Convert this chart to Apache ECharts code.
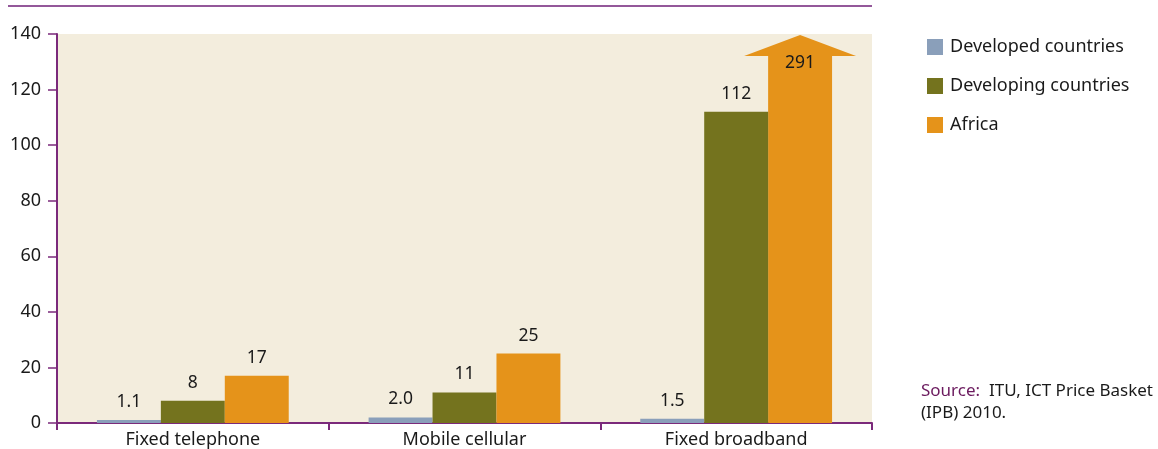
<!DOCTYPE html>
<html>
<head>
<meta charset="utf-8">
<script src="https://cdn.jsdelivr.net/npm/echarts@6/dist/echarts.min.js"></script>
<style>
  html, body { margin: 0; padding: 0; background: #fff; }
  #ec { width: 1158px; height: 449px; }
</style>
</head>
<body>
<div id="ec"></div>
<script>
var categories = ['Fixed telephone', 'Mobile cellular', 'Fixed broadband']
var developed = [1.1, 2.0, 1.5]
var developing = [8, 11, 112]
var africa = [17, 25, 291]
var yTicks = [0, 20, 40, 60, 80, 100, 120, 140]

var yMax = yTicks[yTicks.length - 1]
var font = 'Noto Sans'
var gapRatio = 0.294

var myEchart = echarts.init(document.getElementById('ec'))

// bars above the axis max are drawn as an arrow
function arrowItem(params, api) {
  var idx = api.value(0)
  var v = api.value(1)
  if (v <= yMax) return null
  var base = api.coord([idx, 0])
  var top = api.coord([idx, yMax])
  var band = api.size([1, 0])[0]
  var barW = band * (1 - gapRatio) / 3
  var cx = base[0] + barW
  var l = cx - barW / 2, r = cx + barW / 2
  var hw = barW * 0.875
  var headBase = top[1] + 22
  return {
    type: 'polygon',
    shape: {
      points: [[l, base[1]], [l, headBase], [cx - hw, headBase], [cx, top[1] + 1],
        [cx + hw, headBase], [r, headBase], [r, base[1]]]
    },
    style: { fill: '#e5931a' }
  }
}

var labelStyle = { show: true, position: 'top', distance: 9, fontFamily: font, fontSize: 17.5, color: '#1a1a1a' }

myEchart.setOption({
  animation: false,
  grid: {
    left: 57, right: 286, top: 34, bottom: 25,
    show: true, backgroundColor: '#f3eddd', borderWidth: 0
  },
  legend: {
    orient: 'vertical',
    left: 922, top: 33,
    itemWidth: 16, itemHeight: 16, itemGap: 21,
    icon: 'rect',
    textStyle: { fontFamily: font, fontSize: 18, color: '#1a1a1a', padding: [0, 0, 0, 2] },
    data: ['Developed countries', 'Developing countries', 'Africa']
  },
  xAxis: {
    type: 'category',
    data: categories,
    axisLine: { lineStyle: { color: '#7b2a7b', width: 2 } },
    axisTick: { show: true, length: 7, lineStyle: { color: '#7b2a7b', width: 2 } },
    axisLabel: { fontFamily: font, fontSize: 18, color: '#1a1a1a', margin: 8 }
  },
  yAxis: {
    type: 'value',
    min: 0, max: yMax, interval: 20,
    splitLine: { show: false },
    axisLine: { show: true, lineStyle: { color: '#7b2a7b', width: 2 } },
    axisTick: { show: true, length: 9, lineStyle: { color: '#7b2a7b', width: 1.5 } },
    axisLabel: {
      fontFamily: font, fontSize: 18, color: '#1a1a1a', margin: 16,
      formatter: function (v) { return yTicks.indexOf(v) >= 0 ? String(v) : '' }
    }
  },
  graphic: [
    { type: 'line', shape: { x1: 8, y1: 6, x2: 872, y2: 6 }, style: { stroke: '#94589a', lineWidth: 2 } },
    {
      type: 'text', left: 921, top: 380,
      style: {
        text: '{s|Source:}  ITU, ICT Price Basket\n(IPB) 2010.',
        font: '17px "Noto Sans"', fill: '#1a1a1a', lineHeight: 22,
        rich: { s: { fill: '#6b1a5e', fontFamily: font, fontSize: 17 } }
      }
    }
  ],
  series: [
    {
      name: 'Developed countries', type: 'bar', barGap: 0, barCategoryGap: (gapRatio * 100) + '%',
      itemStyle: { color: '#8a9fba' },
      label: Object.assign({}, labelStyle, { formatter: function (p) { return p.value.toFixed(1) } }),
      data: developed
    },
    {
      name: 'Developing countries', type: 'bar', barGap: 0, barCategoryGap: (gapRatio * 100) + '%',
      itemStyle: { color: '#74731e' },
      label: labelStyle,
      data: developing
    },
    {
      name: 'Africa', type: 'bar', barGap: 0, barCategoryGap: (gapRatio * 100) + '%',
      itemStyle: { color: '#e5931a' },
      label: labelStyle,
      z: 3,
      data: africa.map(function (v) {
        if (v <= yMax) return v
        return { value: v, itemStyle: { color: 'rgba(0,0,0,0)' }, label: { position: 'insideTop', distance: 20 } }
      })
    },
    {
      type: 'custom', z: 2,
      renderItem: arrowItem,
      data: africa.map(function (v, i) { return [i, v] })
    }
  ]
})
</script>
</body>
</html>
